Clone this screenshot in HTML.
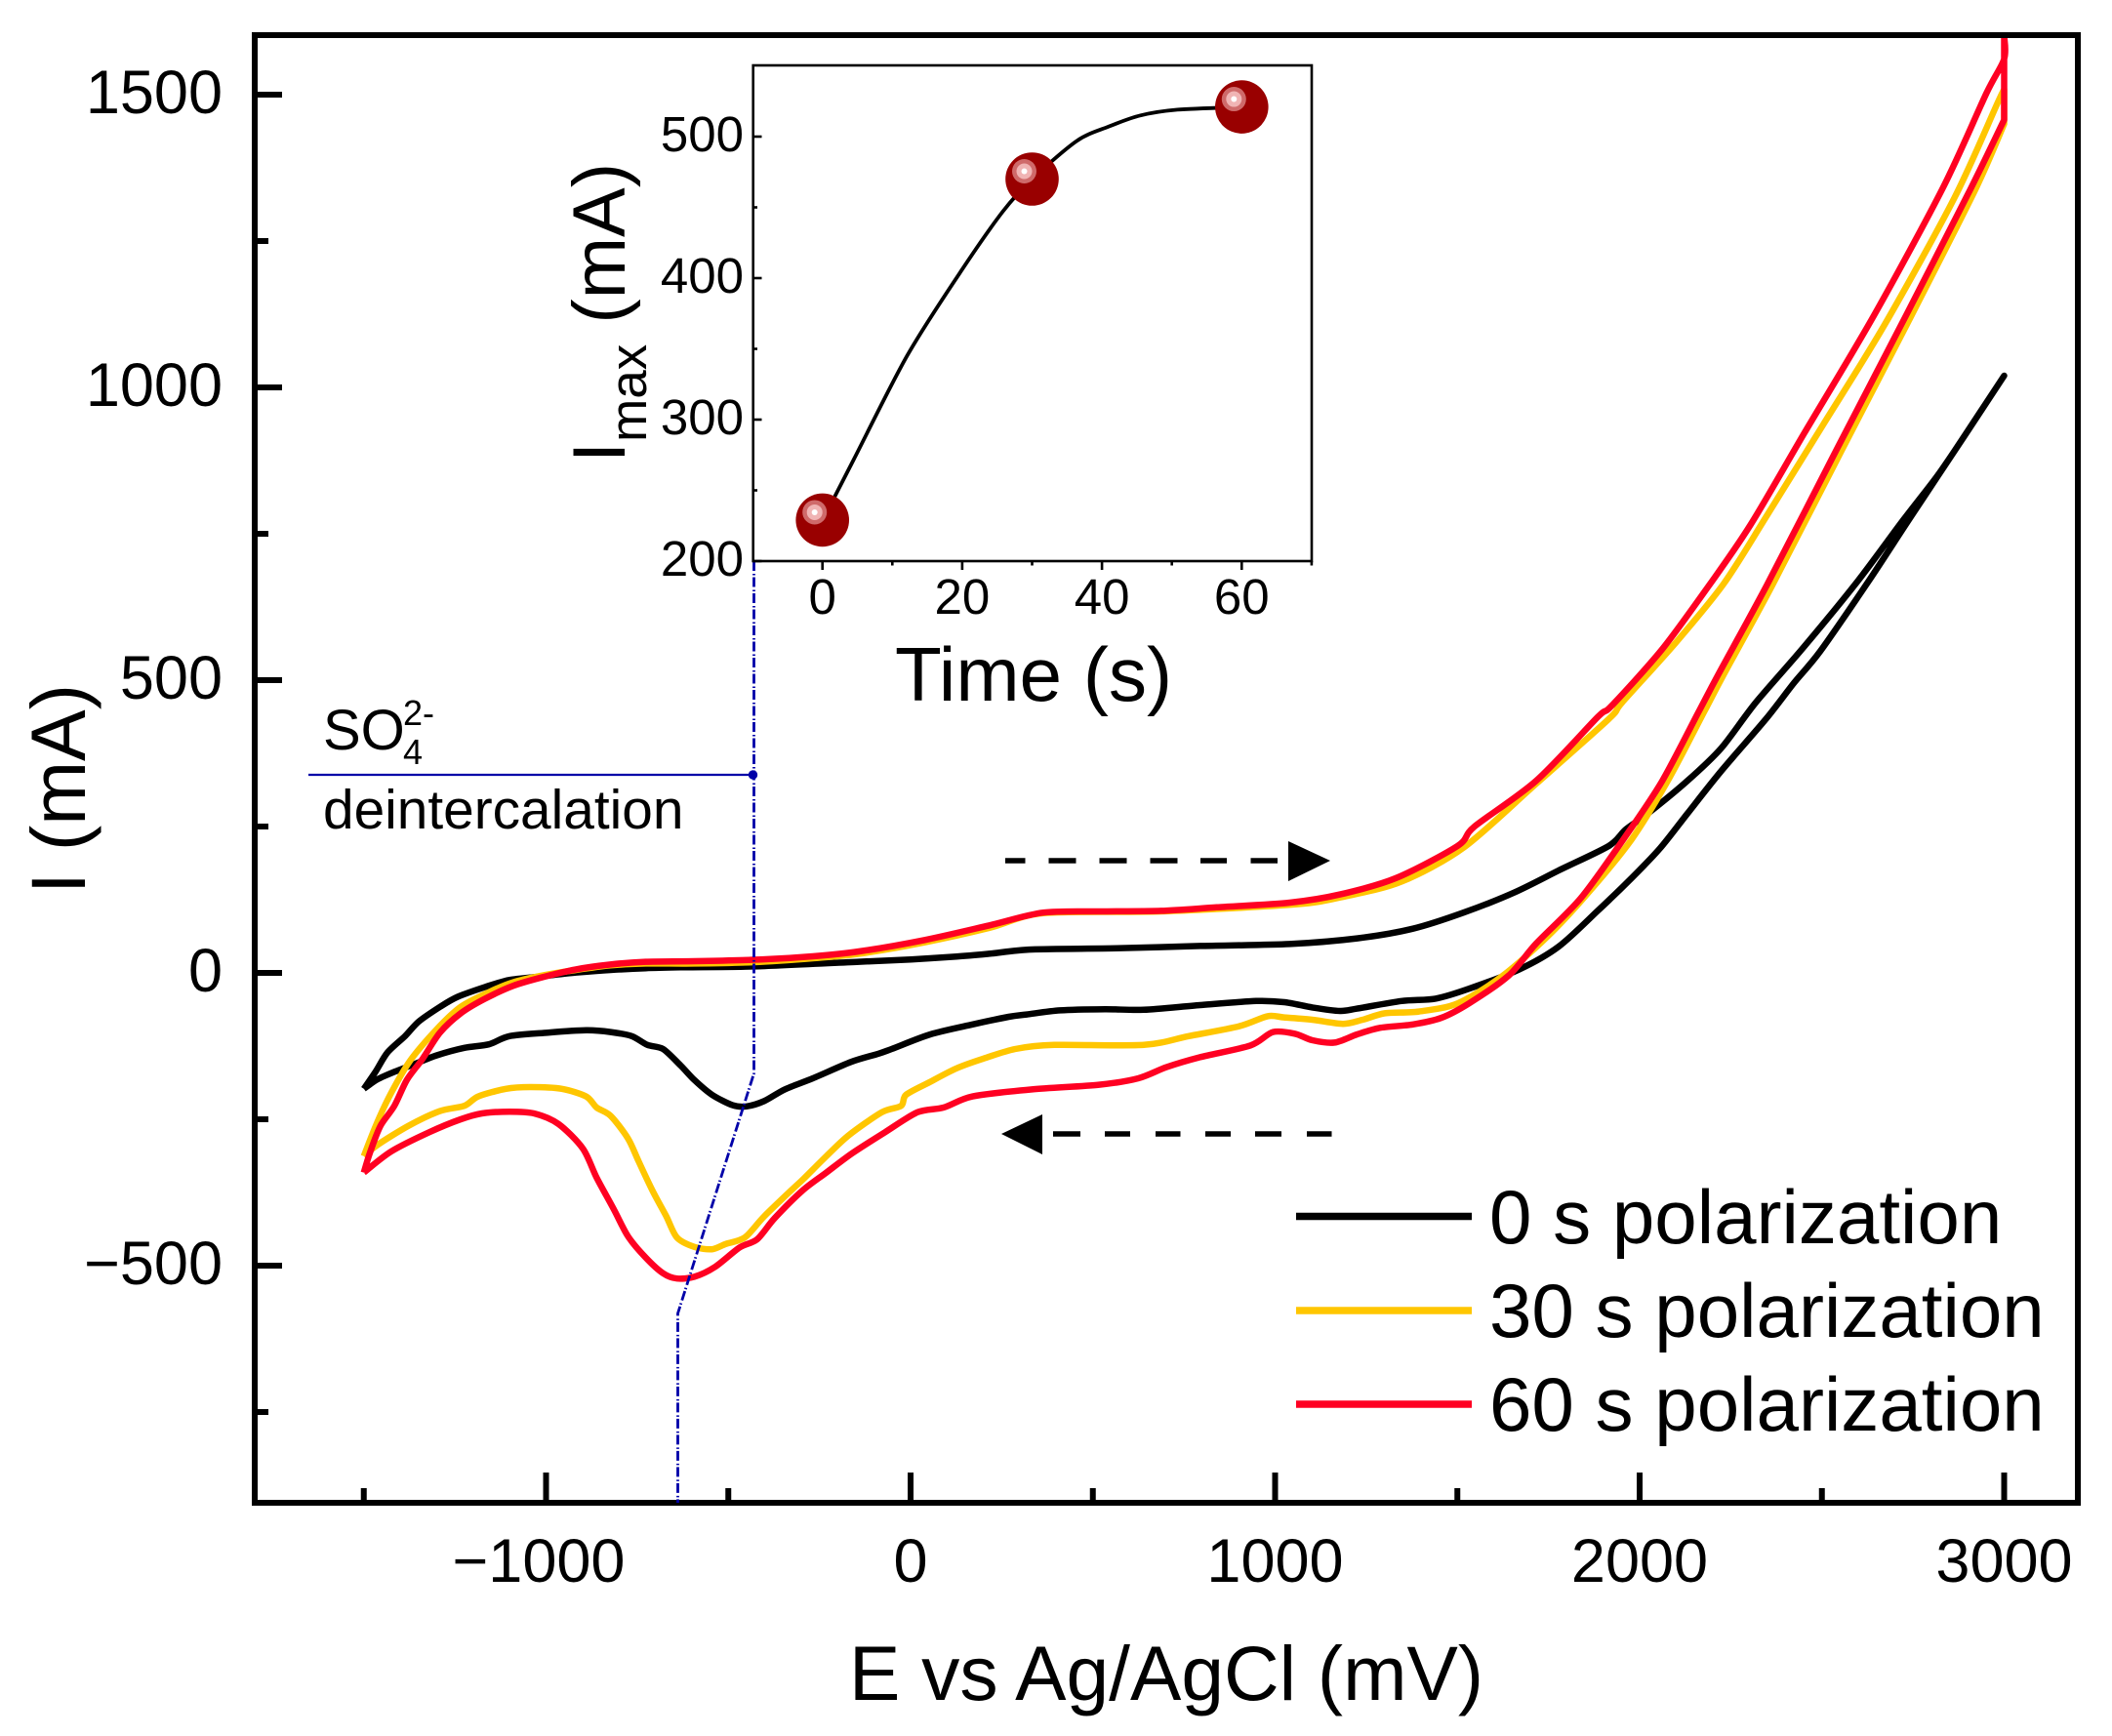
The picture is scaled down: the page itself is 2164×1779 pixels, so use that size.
<!DOCTYPE html>
<html lang="en">
<head>
<meta charset="utf-8">
<title>Cyclic voltammetry chart</title>
<style>
html,body{margin:0;padding:0;background:#fff;}
svg{display:block;}
text{font-family:"Liberation Sans",Arial,sans-serif;fill:#000;}
</style>
</head>
<body>
<svg id="chart" xmlns="http://www.w3.org/2000/svg" width="2164" height="1779" viewBox="0 0 2164 1779">
  <rect x="0" y="0" width="2164" height="1779" fill="#fff"/>
  <g id="main-marks"></g>
  <rect x="261" y="36" width="1868" height="1504" fill="none" stroke="#000" stroke-width="6"/>
  <g id="main-ticks"></g>
  <text x="870" y="1742" font-size="78.5">E vs Ag/AgCl (mV)</text>
  <text transform="translate(87,916) rotate(-90)" font-size="79">I (mA)</text>

  <polyline points="772.5,575 772.5,1100 694.5,1346 694.5,1540" fill="none" stroke="#0000a8" stroke-width="2.8" stroke-dasharray="10 3 1.5 2"/>
  <line x1="316" y1="794" x2="771" y2="794" stroke="#0000a8" stroke-width="2.2"/>
  <circle cx="771.5" cy="794" r="4.7" fill="#0000a8"/>
  <g>
    <text x="331" y="768" font-size="58">SO</text>
    <text x="413" y="743" font-size="36">2-</text>
    <text x="413" y="783" font-size="36">4</text>
    <text x="331" y="849" font-size="56.8">deintercalation</text>
  </g>

  <g>
    <line x1="1030" y1="882" x2="1309" y2="882" stroke="#000" stroke-width="5.5" stroke-dasharray="20.5 24 28 24 28 24 28 23.5 27 24.5 28"/>
    <polygon points="1320,862 1363,882 1320,903" fill="#000"/>
  </g>
  <g>
    <line x1="1079" y1="1162" x2="1365" y2="1162" stroke="#000" stroke-width="5.5" stroke-dasharray="28 25 26 26 25.5 25.5 26 25 27 26 25.5"/>
    <polygon points="1068,1142 1026,1162 1068,1183" fill="#000"/>
  </g>

  <g>
    <g>
      <line x1="1328" y1="1246.5" x2="1508" y2="1246.5" stroke="#000" stroke-width="7.5"/>
      <text x="1526" y="1274" font-size="78.1">0 s polarization</text>
    </g>
    <g>
      <line x1="1328" y1="1343" x2="1508" y2="1343" stroke="#ffc600" stroke-width="7.5"/>
      <text x="1526" y="1370" font-size="78.1">30 s polarization</text>
    </g>
    <g>
      <line x1="1328" y1="1439" x2="1508" y2="1439" stroke="#ff0022" stroke-width="7.5"/>
      <text x="1526" y="1466" font-size="78.1">60 s polarization</text>
    </g>
  </g>

  <rect x="771.7" y="67" width="572.3" height="508" fill="none" stroke="#000" stroke-width="2.6"/>
  <g id="inset-ticks"></g>
  <g id="inset-marks"></g>
  <text x="917" y="718" font-size="78.3">Time (s)</text>
  <text transform="translate(640,474) rotate(-90)" font-size="76">I<tspan font-size="53" dy="22">max</tspan><tspan dy="-22"> (mA)</tspan></text>
</svg>
<script>
// Main chart data: potential (mV) and current (mA)
var blackForwardV = [-1500,-1468,-1435,-1387,-1349,-1291,-1243,-1167,-1100,-1014,-918,-823,-727,-631,-431,-142,1,126,215,333,564,794,1040,1225,1378,1517,1655,1778,1916,1962,2024,2131,2224,2319,2451,2598,2725,2818,2892,3000];
var blackForwardI = [-198,-169,-136,-108,-83,-58,-41,-24,-12,-6,0.5,5,8,9.5,11,19,23,28,32.7,40,42,46,49.4,59,75.5,103,137,175,217,245,273,328,384,462,557,669,775,850,918,1020];
var blackReverseV = [3000,2892,2745,2628,2495,2423,2347,2224,2131,2055,1978,1885,1778,1670,1532,1440,1347,1225,1178,1102,1025,948,794,640,533,410,318,269,170,54,-52,-88,-163,-268,-345,-402,-450,-488,-545,-593,-631,-679,-722,-765,-823,-890,-995,-1100,-1157,-1224,-1301,-1358,-1416,-1463,-1500];
var blackReverseI = [1020,918,780,669,549,495,434,345,272,212,162,106,45,6,-27,-44,-48,-61,-65,-59,-50,-48,-55,-63,-62,-64,-71,-75,-88,-105,-130,-138,-152,-180,-199,-219,-228,-226,-208,-183,-158,-130,-123,-108,-101,-98,-102,-108,-122,-128,-141,-155,-169,-182,-198];

var yellowForwardV = [-1500,-1463,-1425,-1373,-1301,-1234,-1157,-1090,-1014,-918,-823,-727,-593,-431,-268,-142,37,215,364,687,1055,1194,1347,1517,1716,1916,1952,2099,2231,2348,2503,2672,2863,2980,3000];
var yellowForwardI = [-313,-255,-205,-150,-97,-58,-33,-16,-5,5,12.8,16,16,18.3,25,32.7,52,76.6,102,105,117,131,156,214,323,434,462,564,665,780,936,1107,1323,1483,1509];
var yellowReverseV = [3000,2921,2745,2554,2363,2231,2177,2077,1978,1855,1747,1624,1501,1394,1301,1240,1186,1102,1025,979,902,763,640,394,287,197,126,54,-12,-26,-79,-169,-231,-294,-325,-402,-455,-507,-545,-593,-641,-670,-708,-746,-775,-823,-861,-890,-957,-1043,-1110,-1186,-1224,-1291,-1377,-1463,-1500];
var yellowReverseI = [1450,1338,1122,892,661,510,446,328,228,134,62,-5,-52,-66,-69,-80,-87,-80,-76,-74,-91,-108,-123,-123,-130,-147,-163,-186,-208,-227,-238,-277,-313,-352,-370,-416,-452,-463,-472,-468,-452,-416,-372,-322,-283,-244,-230,-211,-198,-195,-198,-211,-227,-236,-261,-294,-313];

var redForwardV = [-1500,-1482,-1454,-1416,-1382,-1339,-1291,-1234,-1167,-1090,-1014,-918,-823,-727,-593,-410,-268,-142,37,215,364,533,687,840,1040,1178,1332,1501,1547,1716,1885,1923,2062,2194,2304,2451,2642,2833,2951,3000,3000];
var redForwardI = [-341,-305,-261,-227,-183,-147,-102,-69,-44,-22,-8,6,14.4,19,20,22.8,28.3,36.6,56,81,103,105,106,112,120,134,162,217,250,328,437,456,553,665,765,921,1122,1342,1502,1561,1600];
var redReverseV = [3000,2907,2730,2539,2348,2216,2162,2062,1962,1839,1716,1640,1532,1455,1378,1286,1225,1163,1102,1055,994,932,794,702,625,517,333,170,90,19,-70,-160,-231,-297,-373,-421,-469,-536,-593,-641,-679,-727,-775,-813,-861,-899,-966,-1033,-1100,-1176,-1234,-1320,-1425,-1500];
var redReverseI = [1457,1338,1122,892,661,510,446,328,234,128,50,-5,-52,-77,-88,-94,-105,-119,-115,-104,-101,-124,-144,-161,-180,-191,-199,-211,-230,-238,-272,-308,-341,-372,-419,-455,-469,-502,-519,-522,-513,-486,-450,-405,-350,-300,-258,-240,-237,-240,-250,-272,-305,-341];

var xMajorTicks = [-1000,0,1000,2000,3000];
var xMinorTicks = [-1500,-500,500,1500,2500];
var yMajorTicks = [-500,0,500,1000,1500];
var yMinorTicks = [-750,-250,250,750,1250];

// Inset data: polarization time (s) and peak current (mA)
var insetMarkerTime = [0,30,60];
var insetMarkerCurrent = [229,470,521];
var insetFitTime = [0,1.5,4.5,12.1,19.7,25.8,30,36.4,40.9,45.5,50.8,60];
var insetFitCurrent = [229,243,272,345,404,447,470,497,507,515,519,521];
var insetXMajorTicks = [0,20,40,60];
var insetXMinorTicks = [10,30,50,70];
var insetYMajorTicks = [200,300,400,500];
var insetYMinorTicks = [250,350,450];

var NS = 'http://www.w3.org/2000/svg';
function xScale(v){ return 933 + 0.3735 * v; }
function yScale(i){ return 997 - 0.6 * i; }
function insetX(t){ return 842.7 + 7.16 * t; }
function insetY(c){ return 575 - 1.45 * (c - 200); }
function fmt(n){ return n < 0 ? '\u2212' + Math.abs(n) : String(n); }

// Smooth pixel-space path through the given points (Catmull-Rom to Bezier).
function smoothPath(pts, start){
  var d = start ? 'M' + pts[0][0].toFixed(1) + ' ' + pts[0][1].toFixed(1) : 'L' + pts[0][0].toFixed(1) + ' ' + pts[0][1].toFixed(1);
  for (var k = 0; k < pts.length - 1; k++){
    var p0 = pts[k - 1] || pts[k];
    var p1 = pts[k];
    var p2 = pts[k + 1];
    var p3 = pts[k + 2] || p2;
    var c1x = p1[0] + (p2[0] - p0[0]) / 7;
    var c1y = p1[1] + (p2[1] - p0[1]) / 7;
    var c2x = p2[0] - (p3[0] - p1[0]) / 7;
    var c2y = p2[1] - (p3[1] - p1[1]) / 7;
    d += 'C' + c1x.toFixed(1) + ' ' + c1y.toFixed(1) + ' ' + c2x.toFixed(1) + ' ' + c2y.toFixed(1) + ' ' + p2[0].toFixed(1) + ' ' + p2[1].toFixed(1);
  }
  return d;
}
function branchPoints(vs, is){
  var out = [];
  for (var k = 0; k < vs.length; k++){
    out.push([xScale(vs[k]), yScale(is[k])]);
  }
  return out;
}

function makeLine(parent, name, x1, y1, x2, y2, width){
  var el = document.createElementNS(NS, 'line');
  
  
  el.setAttribute('x1', x1);
  el.setAttribute('y1', y1);
  el.setAttribute('x2', x2);
  el.setAttribute('y2', y2);
  el.setAttribute('stroke', '#000');
  el.setAttribute('stroke-width', width);
  parent.appendChild(el);
}
function makeLabel(parent, name, x, y, size, anchor, str){
  var el = document.createElementNS(NS, 'text');
  
  
  el.setAttribute('x', x);
  el.setAttribute('y', y);
  el.setAttribute('font-size', size);
  el.setAttribute('text-anchor', anchor);
  el.textContent = str;
  parent.appendChild(el);
}
function makeCurve(parent, name, vf, jf, vr, jr, color){
  var d = smoothPath(branchPoints(vf, jf), true) + smoothPath(branchPoints(vr, jr), false);
  var el = document.createElementNS(NS, 'path');
  
  
  el.setAttribute('d', d);
  el.setAttribute('fill', 'none');
  el.setAttribute('stroke', color);
  el.setAttribute('stroke-width', '6.5');
  el.setAttribute('stroke-linejoin', 'round');
  parent.appendChild(el);
}

var mainMarks = document.getElementById('main-marks');
makeCurve(mainMarks, 'curve-0s-polarization', blackForwardV, blackForwardI, blackReverseV, blackReverseI, '#000000');
makeCurve(mainMarks, 'curve-30s-polarization', yellowForwardV, yellowForwardI, yellowReverseV, yellowReverseI, '#ffc600');
makeCurve(mainMarks, 'curve-60s-polarization', redForwardV, redForwardI, redReverseV, redReverseI, '#ff0022');

var mainTicks = document.getElementById('main-ticks');
xMajorTicks.forEach(function(v){
  makeLine(mainTicks, 'x-major-tick', xScale(v), 1509, xScale(v), 1540, 6);
  makeLabel(mainTicks, 'x-tick-label', v < 0 ? xScale(v) - 7.5 : xScale(v), 1621, 63, 'middle', fmt(v));
});
xMinorTicks.forEach(function(v){
  makeLine(mainTicks, 'x-minor-tick', xScale(v), 1525, xScale(v), 1540, 6);
});
yMajorTicks.forEach(function(c){
  makeLine(mainTicks, 'y-major-tick', 261, yScale(c), 289, yScale(c), 6);
  makeLabel(mainTicks, 'y-tick-label', 228, yScale(c) + 19, 63, 'end', fmt(c));
});
yMinorTicks.forEach(function(c){
  makeLine(mainTicks, 'y-minor-tick', 261, yScale(c), 275, yScale(c), 6);
});

var insetTicks = document.getElementById('inset-ticks');
insetXMajorTicks.forEach(function(t){
  makeLine(insetTicks, 'inset-x-major-tick', insetX(t), 575, insetX(t), 584, 2.6);
  makeLabel(insetTicks, 'inset-x-tick-label', insetX(t), 629, 51, 'middle', String(t));
});
insetXMinorTicks.forEach(function(t){
  makeLine(insetTicks, 'inset-x-minor-tick', insetX(t), 575, insetX(t), 579.5, 2.6);
});
insetYMajorTicks.forEach(function(c){
  makeLine(insetTicks, 'inset-y-major-tick', 771.7, insetY(c), 780.5, insetY(c), 2.6);
  makeLabel(insetTicks, 'inset-y-tick-label', 762, insetY(c) + 15, 51, 'end', String(c));
});
insetYMinorTicks.forEach(function(c){
  makeLine(insetTicks, 'inset-y-minor-tick', 771.7, insetY(c), 776, insetY(c), 2.6);
});

var insetMarks = document.getElementById('inset-marks');
var fitPts = [];
for (var f = 0; f < insetFitTime.length; f++){
  fitPts.push([insetX(insetFitTime[f]), insetY(insetFitCurrent[f])]);
}
var fitPath = document.createElementNS(NS, 'path');


fitPath.setAttribute('d', smoothPath(fitPts, true));
fitPath.setAttribute('fill', 'none');
fitPath.setAttribute('stroke', '#000');
fitPath.setAttribute('stroke-width', '3.8');
fitPath.setAttribute('stroke-linejoin', 'round');
insetMarks.appendChild(fitPath);

function makeDisc(parent, name, cx, cy, r, color){
  var el = document.createElementNS(NS, 'circle');
  
  
  el.setAttribute('cx', cx);
  el.setAttribute('cy', cy);
  el.setAttribute('r', r);
  el.setAttribute('fill', color);
  parent.appendChild(el);
}
insetMarkerTime.forEach(function(t, idx){
  var cx = insetX(t);
  var cy = insetY(insetMarkerCurrent[idx]);
  makeDisc(insetMarks, 'inset-point', cx, cy, 27.3, '#990000');
  makeDisc(insetMarks, 'inset-point-glow', cx - 8, cy - 8, 12.5, '#cf6a6a');
  makeDisc(insetMarks, 'inset-point-shine', cx - 8, cy - 8, 8, '#f0b4b4');
  makeDisc(insetMarks, 'inset-point-highlight', cx - 8, cy - 8, 3, '#ffffff');
});
</script>
</body>
</html>
